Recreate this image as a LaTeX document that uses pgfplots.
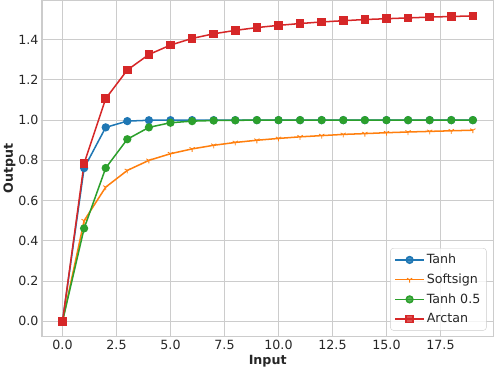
\documentclass[border=0pt]{standalone}
\usepackage{fontspec}
\setmainfont{DejaVu Sans}
\usepackage{pgfplots}
\pgfplotsset{compat=1.18}
\definecolor{tabblue}{HTML}{1F77B4}
\definecolor{taborange}{HTML}{FF7F0E}
\definecolor{tabgreen}{HTML}{2CA02C}
\definecolor{tabred}{HTML}{D62728}
\definecolor{gridgray}{HTML}{CCCCCC}
\definecolor{txt}{HTML}{262626}
\begin{document}
\begin{tikzpicture}
\begin{axis}[
  scale only axis,
  width=446pt, height=332pt,
  xmin=-0.95, xmax=19.95, ymin=-0.076, ymax=1.594,
  xtick={0,2.5,5,7.5,10,12.5,15,17.5},
  xticklabels={0.0,2.5,5.0,7.5,10.0,12.5,15.0,17.5},
  ytick={0,0.2,0.4,0.6,0.8,1.0,1.2,1.4},
  yticklabels={0.0,0.2,0.4,0.6,0.8,1.0,1.2,1.4},
  ticklabel style={font=\fontsize{12.5}{14}\selectfont, text=txt},
  major tick length=0pt,
  grid=major,
  grid style={gridgray, line width=1pt},
  axis line style={gridgray, line width=1.2pt},
  xlabel={\textbf{Input}}, ylabel={\textbf{Output}},
  label style={font=\fontsize{12.5}{14}\selectfont, text=txt},
  xlabel style={yshift=1pt},
  ylabel style={yshift=-4pt},
  legend style={at={(rel axis cs:0.985,0.018)}, anchor=south east,
    draw=gridgray, rounded corners=3pt, fill=white, fill opacity=0.8, text opacity=1,
    font=\fontsize{12.5}{14}\selectfont, text=txt, row sep=4.5pt,
    inner xsep=4pt, inner ysep=4pt},
  legend cell align=left,
  legend image code/.code={
    \draw[mark repeat=2,mark phase=2] plot coordinates {(0cm,0cm) (0.5cm,0cm) (1cm,0cm)};},
]
\addplot[tabblue, line width=1.5pt, mark=*, mark size=3.3pt] coordinates {
(0,0) (1,0.7616) (2,0.9640) (3,0.9951) (4,0.9993) (5,0.9999) (6,1.0) (7,1.0) (8,1.0) (9,1.0)
(10,1.0) (11,1.0) (12,1.0) (13,1.0) (14,1.0) (15,1.0) (16,1.0) (17,1.0) (18,1.0) (19,1.0)};
\addlegendentry{Tanh}
\addplot[taborange, line width=1.5pt, mark=Mercedes star flipped, mark size=3pt, mark options={line width=0.8pt}] coordinates {
(0,0) (1,0.5) (2,0.667) (3,0.75) (4,0.8) (5,0.833) (6,0.857) (7,0.875) (8,0.889) (9,0.9)
(10,0.909) (11,0.917) (12,0.923) (13,0.929) (14,0.933) (15,0.9375) (16,0.941) (17,0.944) (18,0.947) (19,0.95)};
\addlegendentry{Softsign}
\addplot[tabgreen, line width=1.5pt, mark=*, mark size=3.3pt] coordinates {
(0,0) (1,0.462) (2,0.762) (3,0.905) (4,0.964) (5,0.987) (6,0.995) (7,0.998) (8,0.999) (9,1.0)
(10,1.0) (11,1.0) (12,1.0) (13,1.0) (14,1.0) (15,1.0) (16,1.0) (17,1.0) (18,1.0) (19,1.0)};
\addlegendentry{Tanh 0.5}
\addplot[tabred, line width=1.5pt, mark=square*, mark size=3.5pt] coordinates {
(0,0) (1,0.785) (2,1.107) (3,1.249) (4,1.326) (5,1.373) (6,1.406) (7,1.429) (8,1.446) (9,1.460)
(10,1.471) (11,1.480) (12,1.488) (13,1.494) (14,1.500) (15,1.504) (16,1.508) (17,1.512) (18,1.515) (19,1.518)};
\addlegendentry{Arctan}
\end{axis}
\end{tikzpicture}
\end{document}
